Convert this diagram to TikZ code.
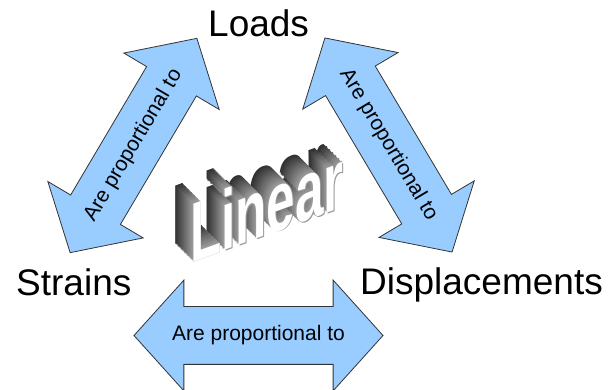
\documentclass[tikz,border=0pt]{standalone}
\usepackage{fontspec}
\setmainfont{Liberation Sans}
\usetikzlibrary{shapes.arrows}
\definecolor{arrowblue}{RGB}{153,204,255}

\begin{document}
\begin{tikzpicture}[x=1pt,y=1pt,
        term/.style={font=\fontsize{37}{40}\selectfont,inner sep=0pt,anchor=base west},
        propto/.style={double arrow,draw=black!80,line width=0.8pt,fill=arrowblue,
            minimum height=249pt,inner xsep=0pt,inner ysep=28.5pt,
            double arrow head extend=26.5pt,double arrow tip angle=96},
        proptext/.style={font=\fontsize{21}{24}\selectfont,inner sep=0pt},
        wordart/.style={font=\bfseries\fontsize{64}{64}\selectfont,inner sep=0pt,
            cm={0.8,0.29,0,1.32,(0,0)}}]
        \useasboundingbox (0,0) rectangle (616,390);
        \node[term] (loads) at (208,353) {Loads};
        \node[term] (strains) at (16,94) {Strains};
        \node[term] (disp) at (360,95) {Displacements};
        \foreach \name/\x/\y/\ang in {sl/133.5/244.5/59.4, ld/388.5/245/-59.3, sd/258.5/54.5/0}
        {
            \node[propto,rotate=\ang] (\name) at (\x,\y) {};
            \node[proptext,rotate=\ang] (\name-text) at (\name) {Are proportional to};
        }
        \foreach \d in {24,...,1}
        {
            \pgfmathsetmacro{\tone}{38+1.8*\d}
            \node[wordart,text=black!\tone] (lin\d) at (267-0.75*\d,185+0.75*\d) {Linear};
        }
        \node[wordart,text=black!40] (linedge) at (267.7,184.3) {Linear};
        \node[wordart,text=white] (lin) at (267,185) {Linear};
\end{tikzpicture}
\end{document}
